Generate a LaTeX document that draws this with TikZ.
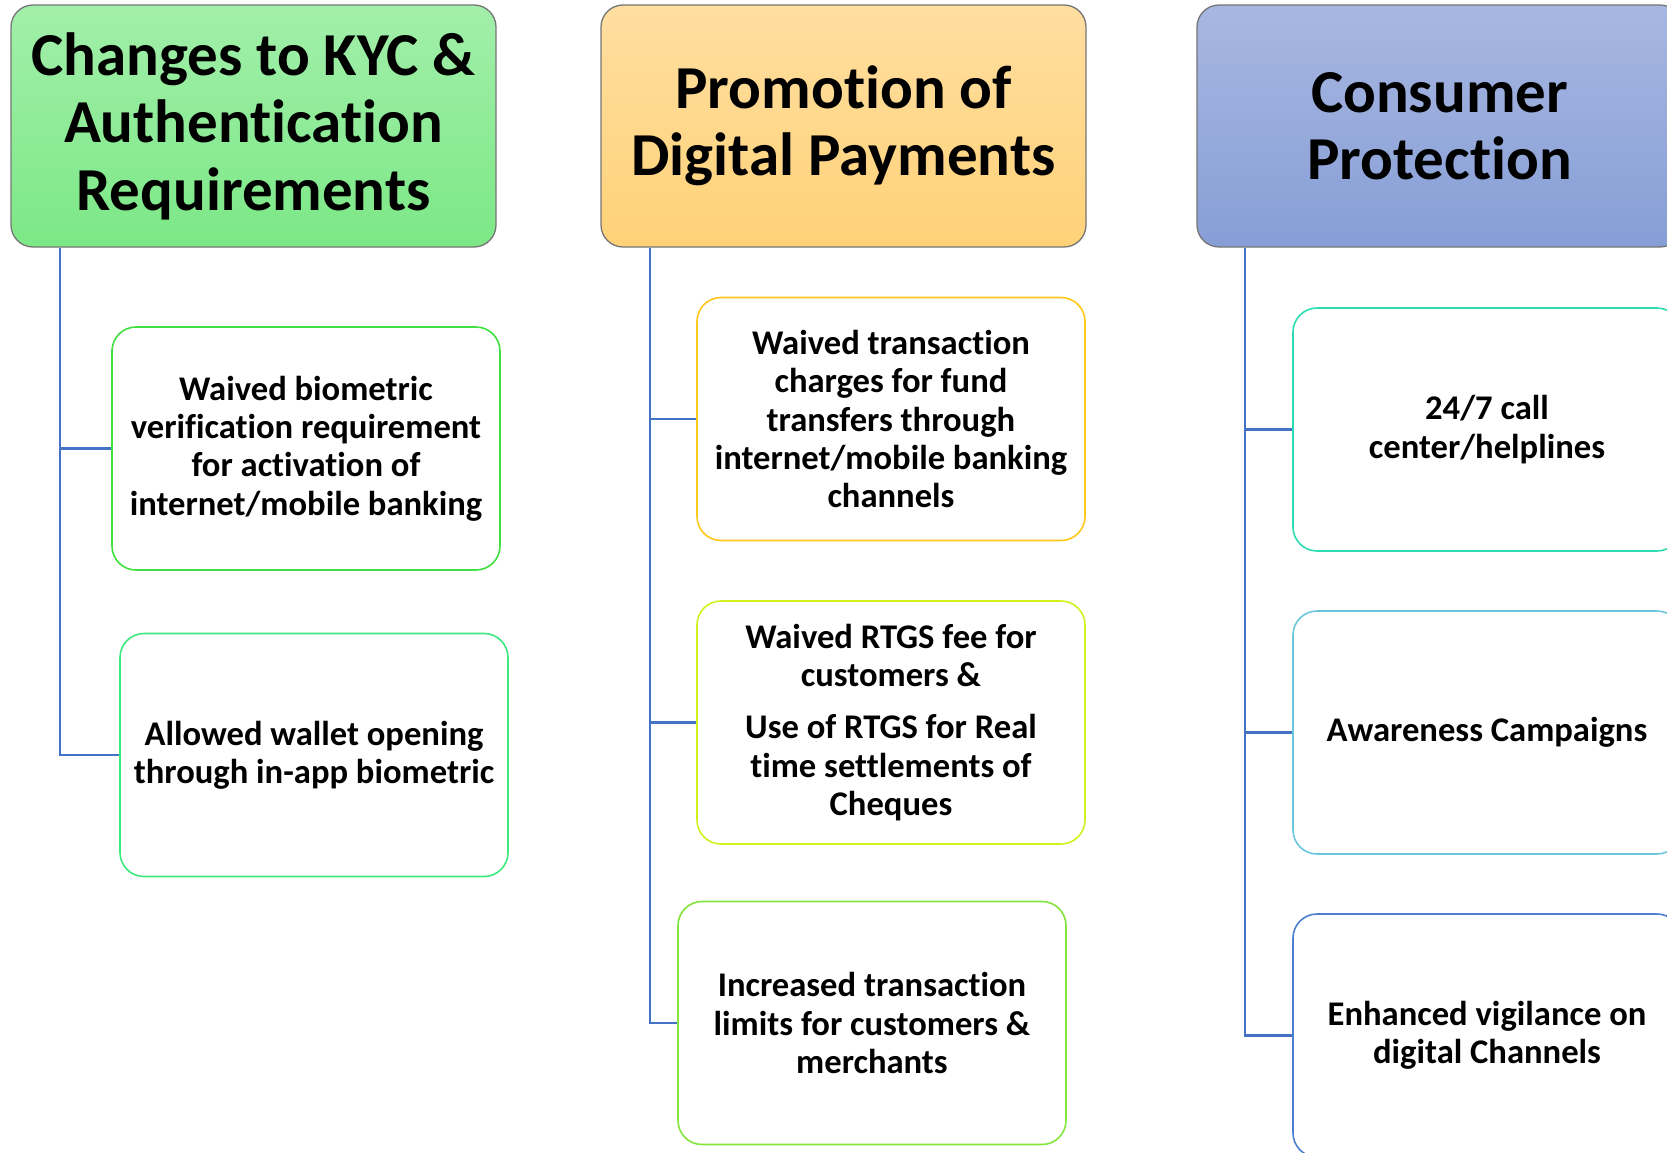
\documentclass[tikz,border=0pt]{standalone}
\usepackage{fontspec}
\setmainfont[Ligatures=NoCommon]{Carlito}
\definecolor{kycTop}{HTML}{A2EFAA}
\definecolor{kycBot}{HTML}{7CE886}
\definecolor{proTop}{HTML}{FFDEA0}
\definecolor{proBot}{HTML}{FFD278}
\definecolor{conTop}{HTML}{A8B7E1}
\definecolor{conBot}{HTML}{869ED6}
\definecolor{hdrLine}{HTML}{767676}
\definecolor{spine}{HTML}{4472C4}
\definecolor{kA}{HTML}{3FE040}
\definecolor{kB}{HTML}{3DE87E}
\definecolor{pA}{HTML}{FFC81A}
\definecolor{pB}{HTML}{D4F01C}
\definecolor{pC}{HTML}{84E43A}
\definecolor{cA}{HTML}{2EDCB4}
\definecolor{cB}{HTML}{6CC6DC}
\definecolor{cC}{HTML}{4D7FD0}
\tikzset{
  header/.style={draw=hdrLine, line width=1.3pt, rounded corners=22pt,
    minimum width=485pt, minimum height=242pt, inner sep=0pt,
    align=center, font=\fontsize{61}{67.5}\selectfont\bfseries},
  item/.style={fill=white, line width=1.6pt, rounded corners=24pt,
    minimum width=388pt, minimum height=243pt, inner sep=0pt,
    align=center, font=\fontsize{34.6}{38.3}\selectfont\bfseries},
  conn/.style={draw=spine, line width=2.2pt}
}
\begin{document}
\begin{tikzpicture}[x=1pt, y=-1pt]
\path[use as bounding box, clip] (0,0) rectangle (1667,1153);
\fill[white] (0,0) rectangle (1667,1153);

% column headers
\node[header, top color=kycTop, bottom color=kycBot] (kyc) at (253.5,126)
  {Changes to KYC \&\\Authentication\\Requirements};
\node[header, top color=proTop, bottom color=proBot] (pro) at (843.5,126)
  {Promotion of\\Digital Payments};
\node[header, top color=conTop, bottom color=conBot] (con) at (1439.5,126)
  {Consumer\\Protection};

% KYC items
\node[item, draw=kA] (k1) at (306,448.5)
  {Waived biometric\\verification requirement\\for activation of\\internet/mobile banking};
\node[item, draw=kB] (k2) at (314,755)
  {Allowed wallet opening\\through in-app biometric};

% digital payment items
\node[item, draw=pA] (p1) at (891,419)
  {Waived transaction\\charges for fund\\transfers through\\internet/mobile banking\\channels};
\node[item, draw=pB] (p2) at (891,722.5)
  {Waived RTGS fee for\\customers \&\\[14pt]Use of RTGS for Real\\time settlements of\\Cheques};
\node[item, draw=pC] (p3) at (872,1023)
  {Increased transaction\\limits for customers \&\\merchants};

% consumer protection items
\node[item, draw=cA] (c1) at (1487,429.5)
  {24/7 call\\center/helplines};
\node[item, draw=cB] (c2) at (1487,732.5)
  {Awareness Campaigns};
\node[item, draw=cC] (c3) at (1487,1035.5)
  {Enhanced vigilance on\\digital Channels};

% branch connectors
\draw[conn] ([xshift=50pt]kyc.south west) |- (k1.west);
\draw[conn] ([xshift=50pt]kyc.south west) |- (k2.west);
\draw[conn] ([xshift=50pt]pro.south west) |- (p1.west);
\draw[conn] ([xshift=50pt]pro.south west) |- (p2.west);
\draw[conn] ([xshift=50pt]pro.south west) |- (p3.west);
\draw[conn] ([xshift=49pt]con.south west) |- (c1.west);
\draw[conn] ([xshift=49pt]con.south west) |- (c2.west);
\draw[conn] ([xshift=49pt]con.south west) |- (c3.west);
\end{tikzpicture}
\end{document}
